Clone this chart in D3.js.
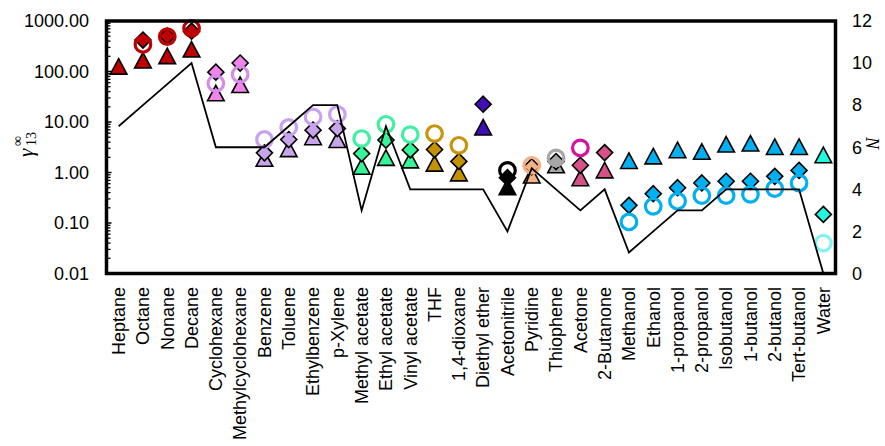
<!DOCTYPE html>
<html>
<head>
<meta charset="utf-8">
<script src="https://cdn.jsdelivr.net/npm/d3@7"></script>
<style>
  html, body { margin: 0; padding: 0; background: #fff; }
  svg { display: block; }
</style>
</head>
<body>
<svg id="chart" width="885" height="446"></svg>
<script>
// ---------- data ----------
const categories = ["Heptane","Octane","Nonane","Decane","Cyclohexane","Methylcyclohexane","Benzene","Toluene","Ethylbenzene","p-Xylene","Methyl acetate","Ethyl acetate","Vinyl acetate","THF","1,4-dioxane","Diethyl ether","Acetonitrile","Pyridine","Thiophene","Acetone","2-Butanone","Methanol","Ethanol","1-propanol","2-propanol","Isobutanol","1-butanol","2-butanol","Tert-butanol","Water"];
const groups = ["alkane","alkane","alkane","alkane","cyclo","cyclo","arom","arom","arom","arom","ester","ester","ester","ether","ether","dee","nitrile","pyridine","thiophene","ketone","ketone","alcohol","alcohol","alcohol","alcohol","alcohol","alcohol","alcohol","alcohol","water"];
const triangleValues = [125,165,202,272,37,54,1.87,2.9,5.0,4.4,1.3,1.95,1.74,1.5,0.96,7.8,0.51,0.87,1.39,0.77,1.1,1.69,2.09,2.76,2.57,3.58,3.74,3.2,3.2,2.2];
const diamondValues  = [null,420,500,630,97,147,2.45,4.5,6.9,7.4,2.37,4.4,2.8,2.85,1.66,22.5,0.79,1.3,1.65,1.39,2.48,0.224,0.38,0.50,0.62,0.67,0.67,0.84,1.1,0.148];
const circleValues   = [null,344,490,716,58,88,4.5,7.8,12.6,14.1,4.7,9.0,5.6,5.9,3.46,null,1.1,1.39,1.95,3.06,null,0.105,0.214,0.27,0.35,0.35,0.37,0.48,0.62,0.040];
const nValues = [7,8,9,10,6,6,6,7,8,8,3,7,4,4,4,4,2,5,4,3,4,1,2,3,3,4,4,4,4,0];
const leftTicks = [0.01,0.1,1,10,100,1000];
const leftTickLabels = ["0.01","0.10","1.00","10.00","100.00","1000.00"];
const rightTicks = [0,2,4,6,8,10,12];

// ---------- styles ----------
const fillColor = {alkane:"#C00000", cyclo:"#F283EA", arom:"#C8A4E8", ester:"#33F597", ether:"#C39200", dee:"#3F0FB5", nitrile:"#000000", pyridine:"#F4B183", thiophene:"#A6A6A6", ketone:"#D6508A", alcohol:"#00B0F0", water:"#22F8E0"};
const ringColor = {alkane:"#C00000", cyclo:"#D68CEA", arom:"#C8A2F0", ester:"#40F0A2", ether:"#C8950A", dee:"#3F0FB5", nitrile:"#000000", pyridine:"#F4B183", thiophene:"#A6A6A6", ketone:"#D4129E", alcohol:"#00B0F0", water:"#84F2F2"};

const L = 106.5, R = 835.5, T = 21, B = 273.5;
const svg = d3.select("#chart");
const x = d3.scalePoint().domain(categories).range([L, R]).padding(0.5);
const y = d3.scaleLog().domain([0.01, 1000]).range([B, T]);
const y2 = d3.scaleLinear().domain([0, 12]).range([B, T]);

const font = "'Liberation Sans', Arial, sans-serif";

// minor/major ticks on left axis (inside)
const minorTicks = [];
for (let e = -2; e < 3; e++) for (let m = 2; m <= 9; m++) minorTicks.push(m * Math.pow(10, e));
svg.append("g").selectAll("line").data(minorTicks).join("line")
  .attr("x1", L).attr("x2", L + 4).attr("y1", d => y(d)).attr("y2", d => y(d))
  .attr("stroke", "#000").attr("stroke-width", 1.3);
svg.append("g").selectAll("line").data(leftTicks).join("line")
  .attr("x1", L).attr("x2", L + 5).attr("y1", d => y(d)).attr("y2", d => y(d))
  .attr("stroke", "#000").attr("stroke-width", 1.5);

// left tick labels
svg.append("g").selectAll("text").data(leftTicks).join("text")
  .attr("x", 89).attr("y", d => y(d)).attr("dy", "0.35em")
  .attr("text-anchor", "end").attr("font-family", font).attr("font-size", 18)
  .text((d, i) => leftTickLabels[i]);

// right tick labels
svg.append("g").selectAll("text").data(rightTicks).join("text")
  .attr("x", 852).attr("y", d => y2(d)).attr("dy", "0.35em")
  .attr("text-anchor", "start").attr("font-family", font).attr("font-size", 18)
  .text(d => d);

// category labels
svg.append("g").selectAll("text").data(categories).join("text")
  .attr("transform", d => `translate(${x(d)},287) rotate(-90)`)
  .attr("dy", "0.35em").attr("text-anchor", "end")
  .attr("font-family", font).attr("font-size", 18)
  .text(d => d);

// markers
const pts = categories.map((c, i) => ({c, i, g: groups[i]}));
const triPath = (cx, cy) => `M${cx},${cy - 8}L${cx + 8.3},${cy + 7.5}L${cx - 8.3},${cy + 7.5}Z`;
const diaPath = (cx, cy) => `M${cx},${cy - 8}L${cx + 8},${cy}L${cx},${cy + 8}L${cx - 8},${cy}Z`;

svg.append("g").selectAll("path").data(pts.filter(p => triangleValues[p.i] != null)).join("path")
  .attr("d", p => triPath(x(p.c), y(triangleValues[p.i])))
  .attr("fill", p => fillColor[p.g]).attr("stroke", "#000").attr("stroke-width", 1.6)
  .attr("stroke-linejoin", "miter");
svg.append("g").selectAll("path").data(pts.filter(p => diamondValues[p.i] != null)).join("path")
  .attr("d", p => diaPath(x(p.c), y(diamondValues[p.i])))
  .attr("fill", p => fillColor[p.g]).attr("stroke", "#000").attr("stroke-width", 1.6);
svg.append("g").selectAll("circle").data(pts.filter(p => circleValues[p.i] != null)).join("circle")
  .attr("cx", p => x(p.c)).attr("cy", p => y(circleValues[p.i])).attr("r", 7.8)
  .attr("fill", "none").attr("stroke", p => ringColor[p.g]).attr("stroke-width", 3.2);

// N line
const line = d3.line().x((d, i) => x(categories[i])).y(d => y2(d));
svg.append("path").datum(nValues).attr("d", line)
  .attr("fill", "none").attr("stroke", "#000").attr("stroke-width", 1.8);

// frame
svg.append("rect").attr("x", L).attr("y", T).attr("width", R - L).attr("height", B - T)
  .attr("fill", "none").attr("stroke", "#000").attr("stroke-width", 3.5);

// axis titles
const yl = svg.append("g").attr("transform", "translate(33,157) rotate(-90)")
  .attr("font-family", "'Liberation Serif', 'DejaVu Serif', serif");
yl.append("text").attr("x", 0).attr("y", 0).attr("font-size", 21).attr("font-style", "italic").text("γ");
yl.append("text").attr("x", 11).attr("y", -11).attr("font-size", 14).text("∞");
yl.append("text").attr("x", 11).attr("y", 3).attr("font-size", 14).text("13");

svg.append("text").attr("transform", "translate(866,143) rotate(90)")
  .attr("text-anchor", "middle").attr("font-family", "'Liberation Serif', serif")
  .attr("font-style", "italic").attr("font-size", 18).text("N");
</script>
</body>
</html>
